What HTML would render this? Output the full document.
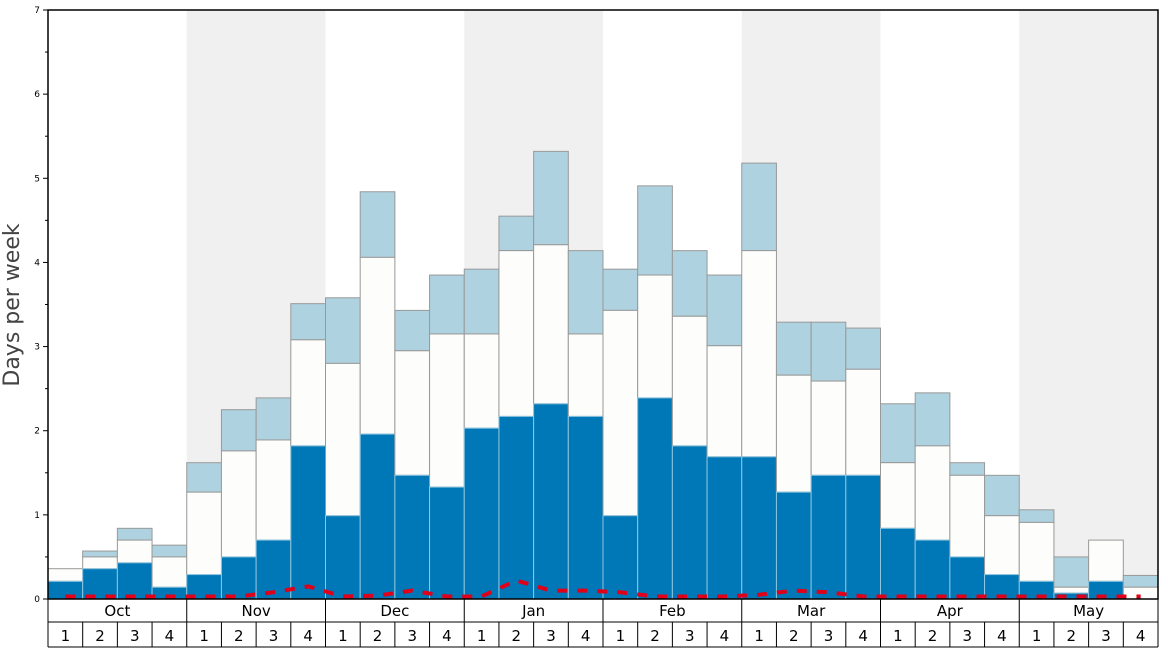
<!DOCTYPE html>
<html><head><meta charset="utf-8"><style>
html,body{margin:0;padding:0;background:#fff;}
svg{display:block;font-family:"DejaVu Sans","Liberation Sans",sans-serif;}
</style></head><body>
<svg id="s" width="1168" height="648" xmlns="http://www.w3.org/2000/svg"></svg>
<script>
const s=document.getElementById('s');
const X0=48,X1=1158,Y0=599,U=(599-10)/7,W=(X1-X0)/32;
const d=[[0.21,0.36,0.36],[0.36,0.5,0.57],[0.43,0.7,0.84],[0.14,0.5,0.64],
[0.29,1.27,1.62],[0.5,1.76,2.25],[0.7,1.89,2.39],[1.82,3.08,3.51],
[0.99,2.8,3.58],[1.96,4.06,4.84],[1.47,2.95,3.43],[1.33,3.15,3.85],
[2.03,3.15,3.92],[2.17,4.14,4.55],[2.32,4.21,5.32],[2.17,3.15,4.14],
[0.99,3.43,3.92],[2.39,3.85,4.91],[1.82,3.36,4.14],[1.69,3.01,3.85],
[1.69,4.14,5.18],[1.27,2.66,3.29],[1.47,2.59,3.29],[1.47,2.73,3.22],
[0.84,1.62,2.32],[0.7,1.82,2.45],[0.5,1.47,1.62],[0.29,0.99,1.47],
[0.21,0.91,1.06],[0.07,0.14,0.5],[0.21,0.7,0.7],[0,0.14,0.28]];
const red=[0.03,0.03,0.03,0.03,0.03,0.03,0.08,0.15,0.03,0.04,0.1,0.03,0.03,0.22,0.1,0.1,0.08,0.03,0.03,0.03,0.05,0.1,0.08,0.03,0.03,0.03,0.03,0.03,0.03,0.03,0.03,0.03];
let h='';
const y=v=>Y0-v*U;
h+=`<rect x="${X0}" y="10" width="${X1-X0}" height="589" fill="#fff"/>`;
for(let m=1;m<8;m+=2)h+=`<rect x="${X0+m*4*W}" y="10" width="${4*W}" height="589" fill="#f0f0f0"/>`;
d.forEach((b,i)=>{const x=X0+i*W;
 if(b[2]>b[1])h+=`<rect x="${x}" y="${y(b[2])}" width="${W}" height="${(b[2]-b[1])*U}" fill="#aed2df" stroke="#999" stroke-width="1"/>`;
 if(b[1]>b[0])h+=`<rect x="${x}" y="${y(b[1])}" width="${W}" height="${(b[1]-b[0])*U}" fill="#fdfdfb" stroke="#999" stroke-width="1"/>`;
 if(b[0]>0)h+=`<rect x="${x}" y="${y(b[0])}" width="${W}" height="${b[0]*U}" fill="#0077b6" stroke="#8ec6e0" stroke-width="1"/>`;
});
let p=red.map((v,i)=>`${X0+(i+0.5)*W},${y(v)}`).join(' ');
h+=`<polyline points="${p}" fill="none" stroke="#e0001a" stroke-width="4" stroke-dasharray="10,10"/>`;
h+=`<rect x="${X0}" y="10" width="${X1-X0}" height="589" fill="none" stroke="#000" stroke-width="1.5"/>`;
for(let v=0;v<=7;v++){h+=`<line x1="${X0-5}" x2="${X0}" y1="${y(v)}" y2="${y(v)}" stroke="#000"/><text x="${X0-8}" y="${y(v)+3}" font-size="9" text-anchor="end">${v}</text>`;
 if(v<7)h+=`<line x1="${X0-3}" x2="${X0}" y1="${y(v+0.5)}" y2="${y(v+0.5)}" stroke="#000"/>`;}
h+=`<text transform="translate(19,305) rotate(-90)" font-size="22" fill="#444" text-anchor="middle">Days per week</text>`;
h+=`<line x1="${X0}" x2="${X1}" y1="622" y2="622" stroke="#000"/><line x1="${X0}" x2="${X1}" y1="647" y2="647" stroke="#000"/>`;
h+=`<line x1="${X0}" x2="${X0}" y1="599" y2="647" stroke="#000"/><line x1="${X1}" x2="${X1}" y1="599" y2="647" stroke="#000"/>`;
const M=['Oct','Nov','Dec','Jan','Feb','Mar','Apr','May'];
M.forEach((m,i)=>{const x=X0+i*4*W;if(i)h+=`<line x1="${x}" x2="${x}" y1="599" y2="647" stroke="#000"/>`;
 h+=`<text x="${x+2*W}" y="616" font-size="15" text-anchor="middle">${m}</text>`;});
for(let i=0;i<32;i++){const x=X0+i*W;if(i%4)h+=`<line x1="${x}" x2="${x}" y1="622" y2="647" stroke="#000"/>`;
 h+=`<text x="${x+W/2}" y="641" font-size="15" text-anchor="middle">${i%4+1}</text>`;}
s.innerHTML=h;
</script>
</body></html>
